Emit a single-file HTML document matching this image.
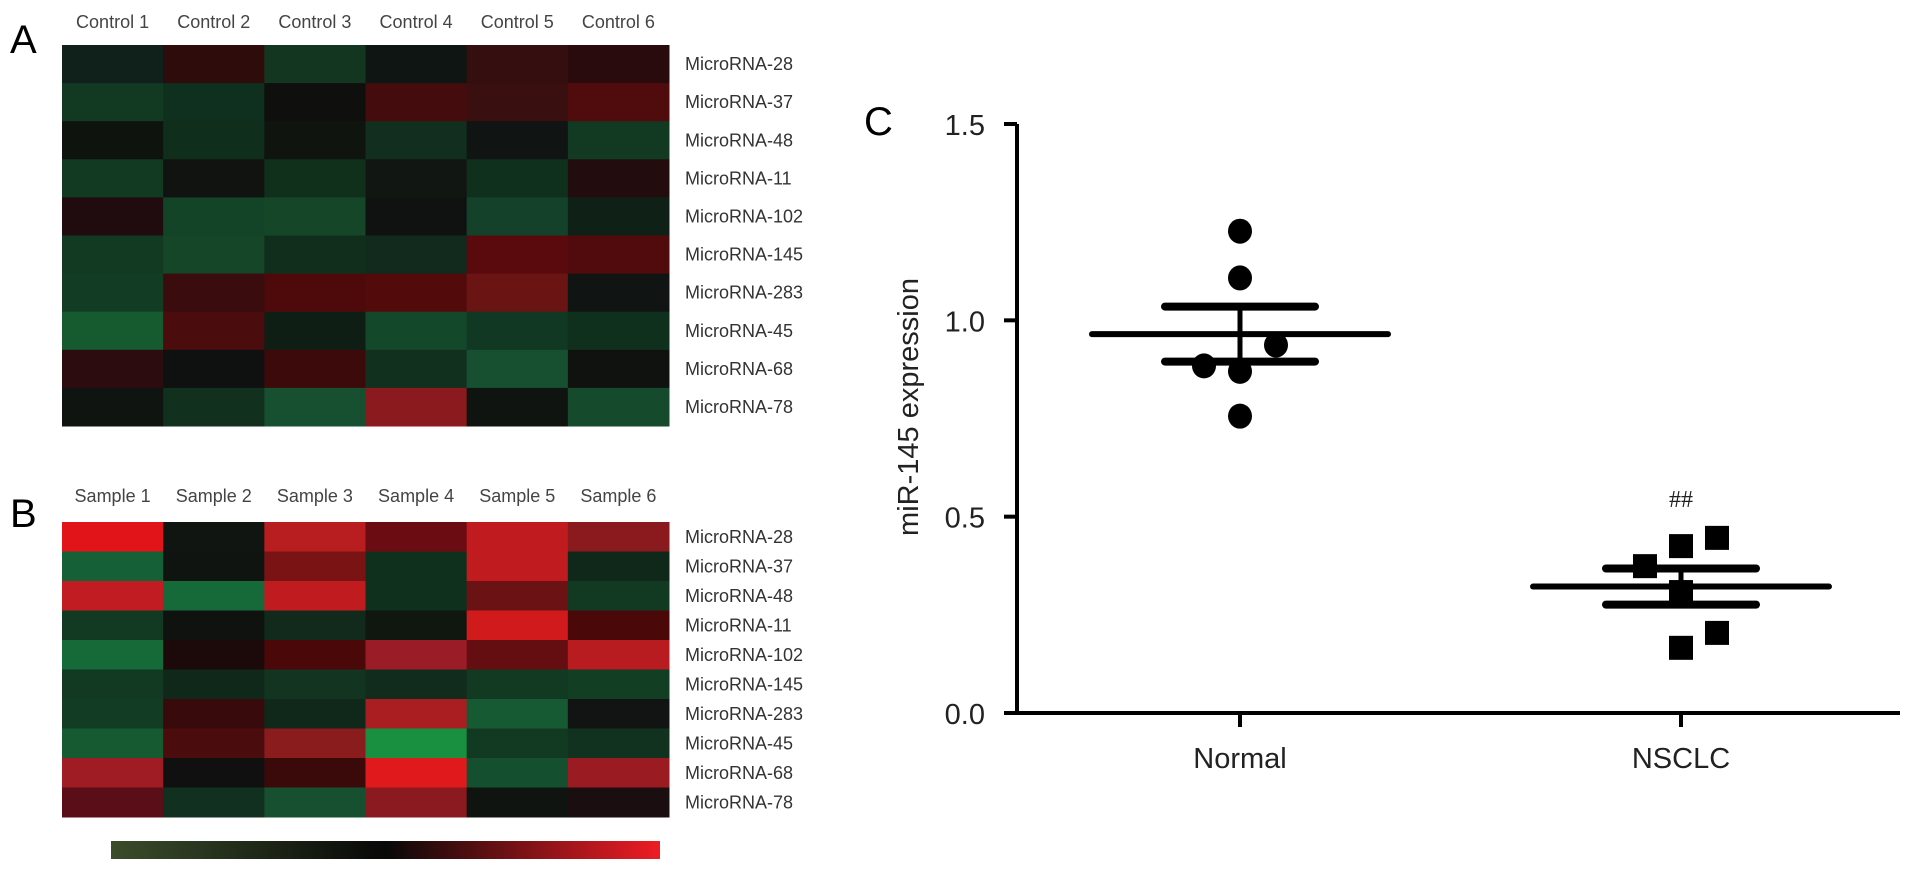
<!DOCTYPE html>
<html><head><meta charset="utf-8">
<style>
body{margin:0;background:#fff;width:1913px;height:873px;overflow:hidden;font-family:"Liberation Sans",sans-serif;}
svg{display:block}
</style></head>
<body>
<svg id="fig" width="1913" height="873"></svg>
<script>
const rowLabels=["MicroRNA-28","MicroRNA-37","MicroRNA-48","MicroRNA-11","MicroRNA-102","MicroRNA-145","MicroRNA-283","MicroRNA-45","MicroRNA-68","MicroRNA-78"];
const controlCols=["Control 1","Control 2","Control 3","Control 4","Control 5","Control 6"];
const sampleCols=["Sample 1","Sample 2","Sample 3","Sample 4","Sample 5","Sample 6"];
const heatA=[
["#10201a","#2e0c0c","#12361f","#0f1512","#350f0f","#2a0b0d"],
["#123a22","#10301f","#0f100e","#440c0c","#3a0f0f","#500b0c"],
["#0e130e","#0f2e1c","#0f140f","#122e1e","#101412","#123a22"],
["#123a22","#101310","#10301c","#111612","#10301e","#220c0e"],
["#200c0e","#144428","#154628","#0f1210","#14412a","#0f2016"],
["#123a22","#154628","#112e1d","#112a1d","#5a0a0c","#520b0d"],
["#123d24","#3a0c0e","#4e0a0b","#520a0b","#6a1414","#101412"],
["#165a30","#4a0c0c","#0f1e14","#14482a","#113822","#10301e"],
["#2c0c0e","#0f1110","#3c0a0b","#11301e","#165030","#101210"],
["#0f1411","#11301e","#165030","#8a1a1e","#0f1410","#154a2c"]];
const heatB=[
["#e01419","#101511","#b81d20","#6a0c12","#c01c1f","#8a1a1e"],
["#166038","#0f1410","#7a1414","#10301e","#c01c1f","#10281a"],
["#c01c22","#166a3a","#c01c20","#10301e","#6a1214","#123a22"],
["#123a22","#101210","#112a1c","#0f170f","#d01a1c","#4a0808"],
["#166a38","#1c0a0a","#4a0808","#9a1c26","#640e12","#b81c20"],
["#123a22","#10281a","#123420","#112c1c","#123a22","#123e24"],
["#123d24","#380a0c","#10281a","#aa1e22","#165a34","#111412"],
["#165a32","#4a0c0c","#8a1c1e","#189040","#123a22","#123220"],
["#a01c24","#101010","#3a0a0a","#e01a1c","#145030","#9a1c22"],
["#5a0e18","#113020","#165030","#8a1a20","#101410","#1a0e10"]];
const groups=["Normal","NSCLC"];
const normalVals=[1.227,1.108,0.884,0.87,0.937,0.756];
const normalOffsets=[0,0,-1,0,1,0];
const nsclcVals=[0.446,0.425,0.374,0.308,0.204,0.166];
const nsclcOffsets=[1,0,-1,0,1,0];
const means=[0.965,0.322];
const sems=[0.07,0.046];
const yTicks=[0,0.5,1.0,1.5];
const yTickLabels=["0.0","0.5","1.0","1.5"];

const NS="http://www.w3.org/2000/svg";
const svg=document.getElementById('fig');
function el(tag,attrs,parent){const e=document.createElementNS(NS,tag);for(const k in attrs)e.setAttribute(k,attrs[k]);(parent||svg).appendChild(e);return e;}
function txt(s,attrs,parent){const t=el('text',attrs,parent);t.textContent=s;return t;}

function heatmap(data,cols,x0,y0,w,h,name,letter,colY,letterY){
  const g=el('g',{});
  
  
  const cw=w/cols.length,rh=h/data.length;
  data.forEach((row,r)=>row.forEach((c,ci)=>{
    const rc=el('rect',{x:x0+ci*cw,y:y0+r*rh,width:cw+0.5,height:rh+0.5,fill:c},g);
    
    
  }));
  cols.forEach((c,i)=>{
    const t=txt(c,{x:x0+(i+0.5)*cw,y:colY,'text-anchor':'middle','font-size':18,fill:'#444'},g);
    
    
  });
  rowLabels.forEach((l,i)=>{
    const t=txt(l,{x:x0+w+16,y:y0+(i+0.5)*rh+6,'font-size':18,fill:'#333'},g);
    
    
  });
  const L=txt(letter,{x:10,y:letterY,'font-size':40,fill:'#000'},g);
  
  
}
heatmap(heatA,controlCols,62,45,607,381,'heatmap-controls','A',28,53);
heatmap(heatB,sampleCols,62,522,607,295,'heatmap-samples','B',502,527);

// colorbar
const defs=el('defs',{});
const lg=el('linearGradient',{id:'cb',x1:0,x2:1,y1:0,y2:0},defs);
el('stop',{offset:'0','stop-color':'#3a4c2a'},lg);
el('stop',{offset:'0.5','stop-color':'#080808'},lg);
el('stop',{offset:'1','stop-color':'#ee1c24'},lg);
const cb=el('rect',{x:111,y:841,width:549,height:18,fill:'url(#cb)'});



// chart C
const Y0=713,Y1=124,V1=1.5;
const yS=v=>Y0-(Y0-Y1)*v/V1;
const xC=[1240,1681];
const AX=1017;
const OFF=36;
const cg=el('g',{});


const ya=el('line',{x1:AX,y1:Y1,x2:AX,y2:Y0+2,stroke:'#000','stroke-width':4},cg);


const xa=el('line',{x1:AX,y1:Y0,x2:1900,y2:Y0,stroke:'#000','stroke-width':4},cg);


yTicks.forEach((v,i)=>{
  el('line',{x1:AX-13,y1:yS(v),x2:AX,y2:yS(v),stroke:'#000','stroke-width':4},cg);
  const t=txt(yTickLabels[i],{x:AX-32,y:yS(v)+11,'text-anchor':'end','font-size':29,fill:'#222'},cg);
  
  
});
groups.forEach((gname,i)=>{
  el('line',{x1:xC[i],y1:Y0,x2:xC[i],y2:Y0+14,stroke:'#000','stroke-width':4},cg);
  const t=txt(gname,{x:xC[i],y:768,'text-anchor':'middle','font-size':29,fill:'#222'},cg);
  
  
});
const yt=txt('miR-145 expression',{x:0,y:0,transform:'translate(918,407) rotate(-90)','text-anchor':'middle','font-size':29,fill:'#222'},cg);


const cl=txt('C',{x:864,y:135,'font-size':40,fill:'#000'},cg);


// mean/sem
means.forEach((m,i)=>{
  const x=xC[i];
  const s=el('g',{},cg);
  
  
  el('line',{x1:x-148,y1:yS(m),x2:x+148,y2:yS(m),stroke:'#000','stroke-width':6,'stroke-linecap':'round'},s);
  el('line',{x1:x-75,y1:yS(m+sems[i]),x2:x+75,y2:yS(m+sems[i]),stroke:'#000','stroke-width':8,'stroke-linecap':'round'},s);
  el('line',{x1:x-75,y1:yS(m-sems[i]),x2:x+75,y2:yS(m-sems[i]),stroke:'#000','stroke-width':8,'stroke-linecap':'round'},s);
  el('line',{x1:x,y1:yS(m+sems[i]),x2:x,y2:yS(m-sems[i]),stroke:'#000','stroke-width':5},s);
});
normalVals.forEach((v,i)=>{
  const c=el('ellipse',{cx:xC[0]+normalOffsets[i]*OFF,cy:yS(v),rx:12,ry:12.5,fill:'#000'},cg);
  
  
});
nsclcVals.forEach((v,i)=>{
  const r=el('rect',{x:xC[1]+nsclcOffsets[i]*OFF-12,y:yS(v)-12,width:24,height:24,fill:'#000'},cg);
  
  
});
const sig=txt('##',{x:xC[1],y:507,'text-anchor':'middle','font-size':24,fill:'#222','font-family':'Liberation Serif, serif'},cg);


</script>
</body></html>
